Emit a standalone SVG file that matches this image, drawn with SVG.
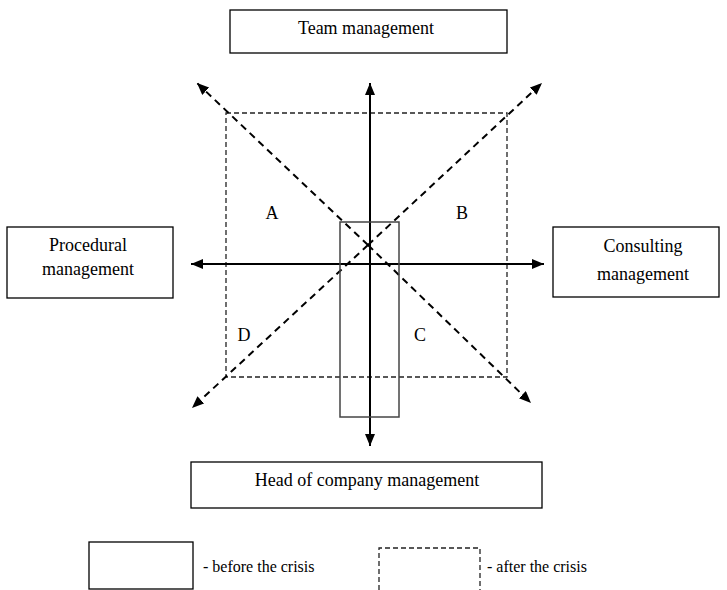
<svg xmlns="http://www.w3.org/2000/svg" width="727" height="590" viewBox="0 0 727 590">
  <style>
    .box { fill: #fff; stroke: #000; stroke-width: 1.3; }
    .lbl { font-family: "Liberation Serif", "Times New Roman", serif; font-size: 18px; fill: #000; text-anchor: middle; }
    .leg { font-family: "Liberation Serif", "Times New Roman", serif; font-size: 16px; fill: #000; }
    .axis { stroke: #000; stroke-width: 2; fill: none; }
    .diag { stroke: #000; stroke-width: 2; fill: none; stroke-dasharray: 7 5; }
    .after { stroke: #222; stroke-width: 1.3; fill: none; stroke-dasharray: 5 3; }
    .before { stroke: #444; stroke-width: 1.5; fill: none; }
  </style>
  <defs>
    <marker id="head" markerUnits="userSpaceOnUse" markerWidth="14" markerHeight="12" refX="12" refY="5" orient="auto">
      <path d="M0,0 L12,5 L0,10 Z" fill="#000"/>
    </marker>
  </defs>

  <rect width="727" height="590" fill="#fff"/>

  <!-- state after the crisis (dashed field) -->
  <rect id="after-area" class="after" x="226" y="113" width="281" height="264"/>

  <!-- connectors -->
  <g id="connectors">
    <line class="diag" x1="368" y1="245" x2="197" y2="83" marker-end="url(#head)"/>
    <line class="diag" x1="368" y1="245" x2="531" y2="403" marker-end="url(#head)"/>
    <line class="diag" x1="368" y1="245" x2="542" y2="83" marker-end="url(#head)"/>
    <line class="diag" x1="368" y1="245" x2="192" y2="408" marker-end="url(#head)"/>
    <line class="axis" x1="370" y1="264" x2="370" y2="83" marker-end="url(#head)"/>
    <line class="axis" x1="370" y1="264" x2="370" y2="446" marker-end="url(#head)"/>
    <line class="axis" x1="370" y1="264" x2="191" y2="264" marker-end="url(#head)"/>
    <line class="axis" x1="370" y1="264" x2="544" y2="264" marker-end="url(#head)"/>
  </g>

  <!-- state before the crisis (solid field) -->
  <rect id="before-area" class="before" x="340" y="222" width="59" height="195"/>

  <!-- quadrant labels -->
  <g id="quadrants">
    <text class="lbl" x="272" y="219">A</text>
    <text class="lbl" x="462" y="219">B</text>
    <text class="lbl" x="420" y="341">C</text>
    <text class="lbl" x="244" y="341">D</text>
  </g>

  <g id="team">
    <rect class="box" x="230" y="10" width="277" height="43"/>
    <text class="lbl" x="366" y="34">Team management</text>
  </g>

  <g id="procedural">
    <rect class="box" x="7" y="227" width="166" height="71"/>
    <text class="lbl" x="88" y="251">Procedural</text>
    <text class="lbl" x="88" y="275">management</text>
  </g>

  <g id="consulting">
    <rect class="box" x="553" y="227" width="166" height="70"/>
    <text class="lbl" x="643" y="252">Consulting</text>
    <text class="lbl" x="643" y="280">management</text>
  </g>

  <g id="head-of-company">
    <rect class="box" x="191" y="462" width="351" height="46"/>
    <text class="lbl" x="367" y="486">Head of company management</text>
  </g>

  <!-- legend -->
  <g id="legend">
    <rect class="box" x="89" y="542" width="104" height="47"/>
    <text class="leg" x="203" y="572">- before the crisis</text>
    <path class="after" d="M379,590 V548 H480 V590"/>
    <text class="leg" x="487" y="572">- after the crisis</text>
  </g>
</svg>
